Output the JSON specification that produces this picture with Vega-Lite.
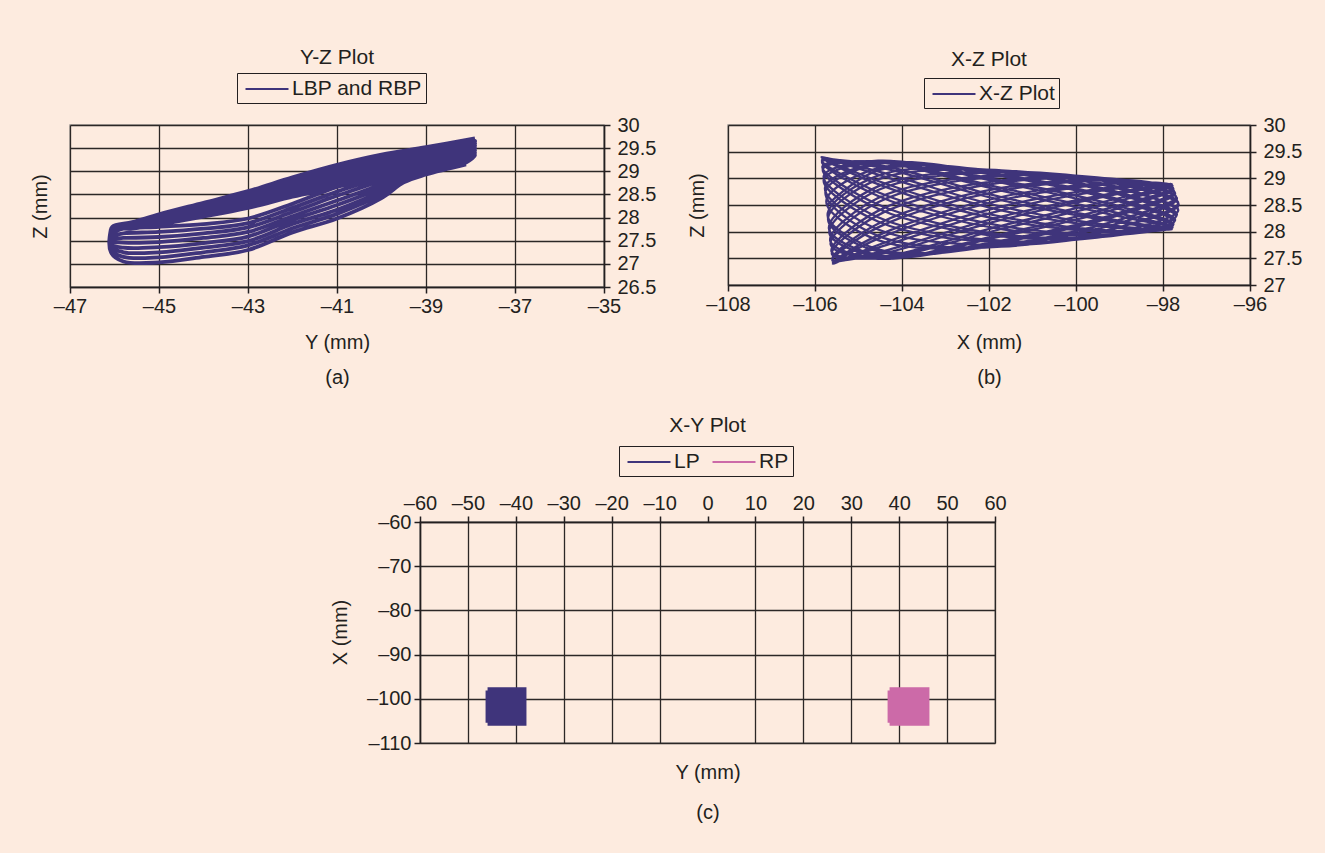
{
  "$schema": "https://vega.github.io/schema/vega-lite/v6.json",
  "background": "#fdebdf",
  "padding": {"left": 29, "top": 45, "right": 26, "bottom": 32},
  "bounds": "flush",
  "spacing": 397,
  "resolve": {"scale": {"color": "independent"}, "legend": {"color": "independent"}},
  "config": {
    "font": "Liberation Sans",
    "view": {"stroke": "#a39c98", "strokeWidth": 1.5},
    "axis": {
      "labelFont": "Liberation Sans", "labelFontSize": 20, "labelColor": "#231f20",
      "titleFont": "Liberation Sans", "titleFontSize": 20, "titleFontWeight": "normal", "titleColor": "#231f20",
      "domainColor": "#231f20", "domainWidth": 1.5, "tickColor": "#231f20", "tickWidth": 1.5, "tickSize": 6,
      "gridColor": "#2b2726", "gridOpacity": 1, "gridWidth": 1.3, "labelPadding": 3, "labelFlush": false, "labelOverlap": false
    },
    "legend": {
      "symbolType": "M-2,0H2", "symbolSize": 462, "symbolStrokeWidth": 2.2, "symbolOffset": 14,
      "labelFont": "Liberation Sans", "labelFontSize": 21, "labelColor": "#231f20",
      "strokeColor": "#231f20", "padding": 4, "labelOffset": 13, "columnPadding": 8
    },
    "title": {"font": "Liberation Sans", "fontSize": 21, "fontWeight": "normal", "color": "#231f20", "anchor": "middle", "frame": "group"}
  },
  "vconcat": [
    {
      "bounds": "flush",
      "spacing": 124,
      "resolve": {"scale": {"color": "independent"}, "legend": {"color": "independent"}},
      "hconcat": [
        {
          "width": 534, "height": 162,
          "title": {"text": "Y-Z Plot", "offset": 5},
          "data": {"values": [
            {"i":0,"y":-37.9,"z":29.71},{"i":1,"y":-39,"z":29.52},{"i":2,"y":-40,"z":29.36},{"i":3,"y":-41,"z":29.14},{"i":4,"y":-42,"z":28.87},{"i":5,"y":-43,"z":28.57},{"i":6,"y":-44,"z":28.32},{"i":7,"y":-45,"z":28.07},{"i":8,"y":-45.6,"z":27.90},{"i":9,"y":-46.05,"z":27.80},
            {"i":10,"y":-46.08,"z":27.68},{"i":11,"y":-45.8,"z":27.76},{"i":12,"y":-45,"z":27.80},{"i":13,"y":-44,"z":27.86},{"i":14,"y":-43,"z":27.98},{"i":15,"y":-42,"z":28.30},{"i":16,"y":-41,"z":28.66},{"i":17,"y":-40,"z":28.95},{"i":18,"y":-39.5,"z":29.08},{"i":19,"y":-39,"z":29.22},{"i":20,"y":-38.1,"z":29.42},
            {"i":21,"y":-37.9,"z":29.66},{"i":22,"y":-39,"z":29.46},{"i":23,"y":-40,"z":29.29},{"i":24,"y":-41,"z":29.07},{"i":25,"y":-42,"z":28.81},{"i":26,"y":-43,"z":28.52},{"i":27,"y":-44,"z":28.28},{"i":28,"y":-45,"z":28.04},{"i":29,"y":-45.6,"z":27.88},{"i":30,"y":-46.05,"z":27.79},
            {"i":31,"y":-46.08,"z":27.62},{"i":32,"y":-45.8,"z":27.66},{"i":33,"y":-45,"z":27.69},{"i":34,"y":-44,"z":27.76},{"i":35,"y":-43,"z":27.88},{"i":36,"y":-42,"z":28.21},{"i":37,"y":-41,"z":28.56},{"i":38,"y":-40,"z":28.87},{"i":39,"y":-39.5,"z":29.03},{"i":40,"y":-39,"z":29.18},{"i":41,"y":-38.1,"z":29.38},
            {"i":42,"y":-37.9,"z":29.61},{"i":43,"y":-39,"z":29.40},{"i":44,"y":-40,"z":29.23},{"i":45,"y":-41,"z":29.00},{"i":46,"y":-42,"z":28.75},{"i":47,"y":-43,"z":28.47},{"i":48,"y":-44,"z":28.23},{"i":49,"y":-45,"z":28.01},{"i":50,"y":-45.6,"z":27.86},{"i":51,"y":-46.05,"z":27.78},
            {"i":52,"y":-46.08,"z":27.56},{"i":53,"y":-45.8,"z":27.56},{"i":54,"y":-45,"z":27.58},{"i":55,"y":-44,"z":27.66},{"i":56,"y":-43,"z":27.79},{"i":57,"y":-42,"z":28.12},{"i":58,"y":-41,"z":28.47},{"i":59,"y":-40,"z":28.80},{"i":60,"y":-39.5,"z":28.99},{"i":61,"y":-39,"z":29.14},{"i":62,"y":-38.1,"z":29.34},
            {"i":63,"y":-37.9,"z":29.56},{"i":64,"y":-39,"z":29.34},{"i":65,"y":-40,"z":29.16},{"i":66,"y":-41,"z":28.93},{"i":67,"y":-42,"z":28.69},{"i":68,"y":-43,"z":28.42},{"i":69,"y":-44,"z":28.19},{"i":70,"y":-45,"z":27.98},{"i":71,"y":-45.6,"z":27.84},{"i":72,"y":-46.05,"z":27.77},
            {"i":73,"y":-46.08,"z":27.50},{"i":74,"y":-45.8,"z":27.46},{"i":75,"y":-45,"z":27.47},{"i":76,"y":-44,"z":27.56},{"i":77,"y":-43,"z":27.69},{"i":78,"y":-42,"z":28.03},{"i":79,"y":-41,"z":28.37},{"i":80,"y":-40,"z":28.72},{"i":81,"y":-39.5,"z":28.94},{"i":82,"y":-39,"z":29.10},{"i":83,"y":-38.1,"z":29.30},
            {"i":84,"y":-37.9,"z":29.50},{"i":85,"y":-39,"z":29.28},{"i":86,"y":-40,"z":29.10},{"i":87,"y":-41,"z":28.87},{"i":88,"y":-42,"z":28.63},{"i":89,"y":-43,"z":28.36},{"i":90,"y":-44,"z":28.15},{"i":91,"y":-45,"z":27.94},{"i":92,"y":-45.6,"z":27.82},{"i":93,"y":-46.05,"z":27.75},
            {"i":94,"y":-46.08,"z":27.43},{"i":95,"y":-45.8,"z":27.35},{"i":96,"y":-45,"z":27.36},{"i":97,"y":-44,"z":27.45},{"i":98,"y":-43,"z":27.59},{"i":99,"y":-42,"z":27.95},{"i":100,"y":-41,"z":28.27},{"i":101,"y":-40,"z":28.65},{"i":102,"y":-39.5,"z":28.90},{"i":103,"y":-39,"z":29.05},{"i":104,"y":-38.1,"z":29.27},
            {"i":105,"y":-37.9,"z":29.45},{"i":106,"y":-39,"z":29.22},{"i":107,"y":-40,"z":29.03},{"i":108,"y":-41,"z":28.80},{"i":109,"y":-42,"z":28.57},{"i":110,"y":-43,"z":28.31},{"i":111,"y":-44,"z":28.11},{"i":112,"y":-45,"z":27.91},{"i":113,"y":-45.6,"z":27.80},{"i":114,"y":-46.05,"z":27.74},
            {"i":115,"y":-46.08,"z":27.37},{"i":116,"y":-45.8,"z":27.25},{"i":117,"y":-45,"z":27.25},{"i":118,"y":-44,"z":27.35},{"i":119,"y":-43,"z":27.49},{"i":120,"y":-42,"z":27.86},{"i":121,"y":-41,"z":28.17},{"i":122,"y":-40,"z":28.57},{"i":123,"y":-39.5,"z":28.85},{"i":124,"y":-39,"z":29.01},{"i":125,"y":-38.1,"z":29.23},
            {"i":126,"y":-37.9,"z":29.40},{"i":127,"y":-39,"z":29.16},{"i":128,"y":-40,"z":28.97},{"i":129,"y":-41,"z":28.73},{"i":130,"y":-42,"z":28.51},{"i":131,"y":-43,"z":28.26},{"i":132,"y":-44,"z":28.06},{"i":133,"y":-45,"z":27.88},{"i":134,"y":-45.6,"z":27.78},{"i":135,"y":-46.05,"z":27.73},
            {"i":136,"y":-46.08,"z":27.31},{"i":137,"y":-45.8,"z":27.15},{"i":138,"y":-45,"z":27.14},{"i":139,"y":-44,"z":27.25},{"i":140,"y":-43,"z":27.40},{"i":141,"y":-42,"z":27.77},{"i":142,"y":-41,"z":28.08},{"i":143,"y":-40,"z":28.50},{"i":144,"y":-39.5,"z":28.81},{"i":145,"y":-39,"z":28.97},{"i":146,"y":-38.1,"z":29.19},
            {"i":147,"y":-37.9,"z":29.35},{"i":148,"y":-39,"z":29.10},{"i":149,"y":-40,"z":28.90},{"i":150,"y":-41,"z":28.66},{"i":151,"y":-42,"z":28.45},{"i":152,"y":-43,"z":28.21},{"i":153,"y":-44,"z":28.02},{"i":154,"y":-45,"z":27.85},{"i":155,"y":-45.6,"z":27.76},{"i":156,"y":-46.05,"z":27.72},
            {"i":157,"y":-46.08,"z":27.25},{"i":158,"y":-45.8,"z":27.05},{"i":159,"y":-45,"z":27.03},{"i":160,"y":-44,"z":27.15},{"i":161,"y":-43,"z":27.30},{"i":162,"y":-42,"z":27.68},{"i":163,"y":-41,"z":27.98},{"i":164,"y":-40,"z":28.42},{"i":165,"y":-39.5,"z":28.76},{"i":166,"y":-39,"z":28.93},{"i":167,"y":-38.1,"z":29.15}
          ]},
          "mark": {"type": "line", "strokeWidth": 3.8, "interpolate": "catmull-rom"},
          "encoding": {
            "x": {"field": "y", "type": "quantitative", "scale": {"domain": [-47, -35], "nice": false, "zero": false},
              "axis": {"values": [-47, -45, -43, -41, -39, -37, -35], "title": ["Y (mm)", "(a)"], "titleLineHeight": 35, "titleY": 45, "titleBaseline": "top", "labelExpr": "replace('' + datum.value, '-', '–')"}},
            "y": {"field": "z", "type": "quantitative", "scale": {"domain": [26.5, 30], "nice": false, "zero": false},
              "axis": {"orient": "right", "values": [26.5, 27, 27.5, 28, 28.5, 29, 29.5, 30], "labelPadding": 7, "title": "Z (mm)", "titleX": -564, "titleY": 81, "titleAngle": -90, "titleAlign": "center", "titleBaseline": "middle", "labelExpr": "'' + datum.value"}},
            "order": {"field": "i", "type": "quantitative"},
            "color": {"datum": "LBP and RBP", "type": "nominal", "scale": {"range": ["#3f347b"]},
              "legend": {"title": null, "orient": "none", "legendX": 167, "legendY": -52, "direction": "horizontal"}}
          }
        },
        {
          "width": 522, "height": 160,
          "title": {"text": "X-Z Plot", "offset": 8},
          "data": {"values": [
            {"i":0,"x":-105.73,"z":28.49},{"i":1,"x":-104.55,"z":29.15},{"i":2,"x":-101.72,"z":29.13},{"i":3,"x":-98.89,"z":28.71},
            {"i":4,"x":-97.68,"z":28.32},{"i":5,"x":-98.89,"z":27.98},{"i":6,"x":-101.72,"z":27.80},{"i":7,"x":-104.55,"z":28.19},
            {"i":8,"x":-105.80,"z":28.97},{"i":9,"x":-104.55,"z":29.32},{"i":10,"x":-101.72,"z":28.96},{"i":11,"x":-98.89,"z":28.45},
            {"i":12,"x":-97.76,"z":28.14},{"i":13,"x":-98.89,"z":27.95},{"i":14,"x":-101.72,"z":28.05},{"i":15,"x":-104.55,"z":28.67},
            {"i":16,"x":-105.84,"z":29.31},{"i":17,"x":-104.55,"z":29.25},{"i":18,"x":-101.72,"z":28.65},{"i":19,"x":-98.89,"z":28.19},
            {"i":20,"x":-97.80,"z":28.05},{"i":21,"x":-98.89,"z":28.06},{"i":22,"x":-101.72,"z":28.40},{"i":23,"x":-104.55,"z":29.07},
            {"i":24,"x":-105.85,"z":29.40},{"i":25,"x":-104.55,"z":28.95},{"i":26,"x":-101.72,"z":28.28},{"i":27,"x":-98.89,"z":28.01},
            {"i":28,"x":-97.79,"z":28.07},{"i":29,"x":-98.89,"z":28.27},{"i":30,"x":-101.72,"z":28.77},{"i":31,"x":-104.55,"z":29.30},
            {"i":32,"x":-105.83,"z":29.22},{"i":33,"x":-104.55,"z":28.51},{"i":34,"x":-101.72,"z":27.95},{"i":35,"x":-98.89,"z":27.95},
            {"i":36,"x":-97.74,"z":28.19},{"i":37,"x":-98.89,"z":28.54},{"i":38,"x":-101.72,"z":29.04},{"i":39,"x":-104.55,"z":29.29},
            {"i":40,"x":-105.77,"z":28.82},{"i":41,"x":-104.55,"z":28.04},{"i":42,"x":-101.72,"z":27.75},{"i":43,"x":-98.89,"z":28.02},
            {"i":44,"x":-97.65,"z":28.40},{"i":45,"x":-98.89,"z":28.78},{"i":46,"x":-101.72,"z":29.15},{"i":47,"x":-104.55,"z":29.05},
            {"i":48,"x":-105.71,"z":28.31},{"i":49,"x":-104.55,"z":27.67},{"i":50,"x":-101.72,"z":27.74},{"i":51,"x":-98.89,"z":28.19},
            {"i":52,"x":-97.68,"z":28.62},{"i":53,"x":-98.89,"z":28.94},{"i":54,"x":-101.72,"z":29.07},{"i":55,"x":-104.55,"z":28.63},
            {"i":56,"x":-105.65,"z":27.83},{"i":57,"x":-104.55,"z":27.50},{"i":58,"x":-101.72,"z":27.91},{"i":59,"x":-98.89,"z":28.47},
            {"i":60,"x":-97.76,"z":28.80},{"i":61,"x":-98.89,"z":28.97},{"i":62,"x":-101.72,"z":28.82},{"i":63,"x":-104.55,"z":28.15},
            {"i":64,"x":-105.60,"z":27.49},{"i":65,"x":-104.55,"z":27.57},{"i":66,"x":-101.72,"z":28.22},{"i":67,"x":-98.89,"z":28.73},
            {"i":68,"x":-97.80,"z":28.89},{"i":69,"x":-98.89,"z":28.86},{"i":70,"x":-101.72,"z":28.47},{"i":71,"x":-104.55,"z":27.75},
            {"i":72,"x":-105.59,"z":27.40},{"i":73,"x":-104.55,"z":27.87},{"i":74,"x":-101.72,"z":28.59},{"i":75,"x":-98.89,"z":28.91},
            {"i":76,"x":-97.79,"z":28.87},{"i":77,"x":-98.89,"z":28.65},{"i":78,"x":-101.72,"z":28.11},{"i":79,"x":-104.55,"z":27.52},
            {"i":80,"x":-105.61,"z":27.58},{"i":81,"x":-104.55,"z":28.31},{"i":82,"x":-101.72,"z":28.92},{"i":83,"x":-98.89,"z":28.97},
            {"i":84,"x":-97.74,"z":28.75},{"i":85,"x":-98.89,"z":28.38},{"i":86,"x":-101.72,"z":27.83},{"i":87,"x":-104.55,"z":27.53},
            {"i":88,"x":-105.67,"z":27.98},{"i":89,"x":-104.55,"z":28.78},{"i":90,"x":-101.72,"z":29.12},{"i":91,"x":-98.89,"z":28.90},
            {"i":92,"x":-97.65,"z":28.54},{"i":93,"x":-98.89,"z":28.11},{"i":94,"x":-101.72,"z":27.72},{"i":95,"x":-104.55,"z":27.92},
            {"i":96,"x":-105.76,"z":28.74},{"i":97,"x":-104.55,"z":29.27},{"i":98,"x":-101.72,"z":29.07},{"i":99,"x":-98.89,"z":28.58},
            {"i":100,"x":-97.72,"z":28.22},{"i":101,"x":-98.89,"z":27.95},{"i":102,"x":-101.72,"z":27.91},{"i":103,"x":-104.55,"z":28.43},
            {"i":104,"x":-105.82,"z":29.17},{"i":105,"x":-104.55,"z":29.32},{"i":106,"x":-101.72,"z":28.82},{"i":107,"x":-98.89,"z":28.32},
            {"i":108,"x":-97.78,"z":28.08},{"i":109,"x":-98.89,"z":27.99},{"i":110,"x":-101.72,"z":28.22},{"i":111,"x":-104.55,"z":28.89},
            {"i":112,"x":-105.85,"z":29.39},{"i":113,"x":-104.55,"z":29.13},{"i":114,"x":-101.72,"z":28.47},{"i":115,"x":-98.89,"z":28.09},
            {"i":116,"x":-97.80,"z":28.04},{"i":117,"x":-98.89,"z":28.16},{"i":118,"x":-101.72,"z":28.59},{"i":119,"x":-104.55,"z":29.21},
            {"i":120,"x":-105.84,"z":29.34},{"i":121,"x":-104.55,"z":28.74},{"i":122,"x":-101.72,"z":28.11},{"i":123,"x":-98.89,"z":27.96},
            {"i":124,"x":-97.77,"z":28.12},{"i":125,"x":-98.89,"z":28.40},{"i":126,"x":-101.72,"z":28.92},{"i":127,"x":-104.55,"z":29.33},
            {"i":128,"x":-105.80,"z":29.04},{"i":129,"x":-104.55,"z":28.27},{"i":130,"x":-101.72,"z":27.83},{"i":131,"x":-98.89,"z":27.97},
            {"i":132,"x":-97.70,"z":28.29},{"i":133,"x":-98.89,"z":28.67},{"i":134,"x":-101.72,"z":29.12},{"i":135,"x":-104.55,"z":29.19},
            {"i":136,"x":-105.74,"z":28.57},{"i":137,"x":-104.55,"z":27.84},{"i":138,"x":-101.72,"z":27.72},{"i":139,"x":-98.89,"z":28.11},
            {"i":140,"x":-97.64,"z":28.51},{"i":141,"x":-98.89,"z":28.87},{"i":142,"x":-101.72,"z":29.13},{"i":143,"x":-104.55,"z":28.85},
            {"i":144,"x":-105.68,"z":28.06},{"i":145,"x":-104.55,"z":27.56},{"i":146,"x":-101.72,"z":27.80},{"i":147,"x":-98.89,"z":28.34},
            {"i":148,"x":-97.72,"z":28.72},{"i":149,"x":-98.89,"z":28.97},{"i":150,"x":-101.72,"z":28.96},{"i":151,"x":-104.55,"z":28.39},
            {"i":152,"x":-105.62,"z":27.63},{"i":153,"x":-104.55,"z":27.50},{"i":154,"x":-101.72,"z":28.05},{"i":155,"x":-98.89,"z":28.60},
            {"i":156,"x":-97.78,"z":28.86},{"i":157,"x":-98.89,"z":28.93},{"i":158,"x":-101.72,"z":28.65},{"i":159,"x":-104.55,"z":27.93},
            {"i":160,"x":-105.59,"z":27.42},{"i":161,"x":-104.55,"z":27.70},{"i":162,"x":-101.72,"z":28.40},{"i":163,"x":-98.89,"z":28.83},
            {"i":164,"x":-97.80,"z":28.90},{"i":165,"x":-98.89,"z":28.76},{"i":166,"x":-101.72,"z":28.28},{"i":167,"x":-104.55,"z":27.61},
            {"i":168,"x":-105.60,"z":27.46},{"i":169,"x":-104.55,"z":28.08},{"i":170,"x":-101.72,"z":28.77},{"i":171,"x":-98.89,"z":28.96},
            {"i":172,"x":-97.77,"z":28.82},{"i":173,"x":-98.89,"z":28.52},{"i":174,"x":-101.72,"z":27.95},{"i":175,"x":-104.55,"z":27.49},
            {"i":176,"x":-105.64,"z":27.76},{"i":177,"x":-104.55,"z":28.55},{"i":178,"x":-101.72,"z":29.04},{"i":179,"x":-98.89,"z":28.95},
            {"i":180,"x":-97.70,"z":28.65},{"i":181,"x":-98.89,"z":28.25},{"i":182,"x":-101.72,"z":27.75},{"i":183,"x":-104.55,"z":27.63},
            {"i":184,"x":-105.70,"z":28.23},{"i":185,"x":-104.55,"z":28.98},{"i":186,"x":-101.72,"z":29.15},{"i":187,"x":-98.89,"z":28.81},
            {"i":188,"x":-97.64,"z":28.43}
          ]},
          "mark": {"type": "line", "strokeWidth": 2.3, "interpolate": "catmull-rom"},
          "encoding": {
            "x": {"field": "x", "type": "quantitative", "scale": {"domain": [-108, -96], "nice": false, "zero": false},
              "axis": {"values": [-108, -106, -104, -102, -100, -98, -96], "title": ["X (mm)", "(b)"], "titleLineHeight": 35, "titleY": 47, "titleBaseline": "top", "labelExpr": "replace('' + datum.value, '-', '–')"}},
            "y": {"field": "z", "type": "quantitative", "scale": {"domain": [27, 30], "nice": false, "zero": false},
              "axis": {"orient": "right", "values": [27, 27.5, 28, 28.5, 29, 29.5, 30], "labelPadding": 7, "title": "Z (mm)", "titleX": -553, "titleY": 80, "titleAngle": -90, "titleAlign": "center", "titleBaseline": "middle", "labelExpr": "'' + datum.value"}},
            "order": {"field": "i", "type": "quantitative"},
            "color": {"datum": "X-Z Plot", "type": "nominal", "scale": {"range": ["#3f347b"]},
              "legend": {"title": null, "orient": "none", "legendX": 196, "legendY": -47, "direction": "horizontal"}}
          }
        }
      ]
    },
    {
      "bounds": "flush",
      "spacing": 0,
      "resolve": {"scale": {"color": "independent"}, "legend": {"color": "independent"}},
      "hconcat": [
        {
          "width": 350, "height": 20,
          "view": {"stroke": null},
          "data": {"values": [{"t": ""}]},
          "mark": {"type": "text"},
          "encoding": {"text": {"field": "t"}}
        },
        {
          "width": 575, "height": 221,
          "title": {"text": "X-Y Plot", "offset": 10},
          "data": {"values": [
            {"i":0,"s":"LP","y":-45.9,"x":-97.85},{"i":1,"s":"LP","y":-38.2,"x":-97.85},{"i":2,"s":"LP","y":-38.2,"x":-98.56},{"i":3,"s":"LP","y":-45.9,"x":-98.56},
            {"i":4,"s":"LP","y":-45.9,"x":-99.27},{"i":5,"s":"LP","y":-38.2,"x":-99.27},{"i":6,"s":"LP","y":-38.2,"x":-99.98},{"i":7,"s":"LP","y":-45.9,"x":-99.98},
            {"i":8,"s":"LP","y":-45.9,"x":-100.69},{"i":9,"s":"LP","y":-38.2,"x":-100.69},{"i":10,"s":"LP","y":-38.2,"x":-101.40},{"i":11,"s":"LP","y":-45.9,"x":-101.40},
            {"i":12,"s":"LP","y":-45.9,"x":-102.10},{"i":13,"s":"LP","y":-38.2,"x":-102.10},{"i":14,"s":"LP","y":-38.2,"x":-102.81},{"i":15,"s":"LP","y":-45.9,"x":-102.81},
            {"i":16,"s":"LP","y":-45.9,"x":-103.52},{"i":17,"s":"LP","y":-38.2,"x":-103.52},{"i":18,"s":"LP","y":-38.2,"x":-104.23},{"i":19,"s":"LP","y":-45.9,"x":-104.23},
            {"i":20,"s":"LP","y":-45.9,"x":-104.94},{"i":21,"s":"LP","y":-38.2,"x":-104.94},{"i":22,"s":"LP","y":-38.2,"x":-105.65},{"i":23,"s":"LP","y":-45.9,"x":-105.65},
            {"i":0,"s":"RP","y":38.0,"x":-97.85},{"i":1,"s":"RP","y":45.9,"x":-97.85},{"i":2,"s":"RP","y":45.9,"x":-98.56},{"i":3,"s":"RP","y":38.0,"x":-98.56},
            {"i":4,"s":"RP","y":38.0,"x":-99.27},{"i":5,"s":"RP","y":45.9,"x":-99.27},{"i":6,"s":"RP","y":45.9,"x":-99.98},{"i":7,"s":"RP","y":38.0,"x":-99.98},
            {"i":8,"s":"RP","y":38.0,"x":-100.69},{"i":9,"s":"RP","y":45.9,"x":-100.69},{"i":10,"s":"RP","y":45.9,"x":-101.40},{"i":11,"s":"RP","y":38.0,"x":-101.40},
            {"i":12,"s":"RP","y":38.0,"x":-102.10},{"i":13,"s":"RP","y":45.9,"x":-102.10},{"i":14,"s":"RP","y":45.9,"x":-102.81},{"i":15,"s":"RP","y":38.0,"x":-102.81},
            {"i":16,"s":"RP","y":38.0,"x":-103.52},{"i":17,"s":"RP","y":45.9,"x":-103.52},{"i":18,"s":"RP","y":45.9,"x":-104.23},{"i":19,"s":"RP","y":38.0,"x":-104.23},
            {"i":20,"s":"RP","y":38.0,"x":-104.94},{"i":21,"s":"RP","y":45.9,"x":-104.94},{"i":22,"s":"RP","y":45.9,"x":-105.65},{"i":23,"s":"RP","y":38.0,"x":-105.65}
          ]},
          "mark": {"type": "line", "strokeWidth": 4},
          "encoding": {
            "x": {"field": "y", "type": "quantitative", "scale": {"domain": [-60, 60], "nice": false, "zero": false},
              "axis": {"orient": "top", "values": [-60, -50, -40, -30, -20, -10, 0, 10, 20, 30, 40, 50, 60], "title": ["Y (mm)", "(c)"], "titleLineHeight": 40, "titleY": 240, "titleBaseline": "top", "labelExpr": "replace('' + datum.value, '-', '–')",
                "gridColor": {"condition": {"test": "datum.value === 0", "value": "transparent"}, "value": "#2b2726"}}},
            "y": {"field": "x", "type": "quantitative", "scale": {"domain": [-110, -60], "nice": false, "zero": false},
              "axis": {"values": [-110, -100, -90, -80, -70, -60], "title": "X (mm)", "titleX": -80, "titleY": 110, "titleAngle": -90, "titleAlign": "center", "titleBaseline": "middle", "labelExpr": "replace('' + datum.value, '-', '–')"}},
            "order": {"field": "i", "type": "quantitative"},
            "color": {"field": "s", "type": "nominal", "scale": {"domain": ["LP", "RP"], "range": ["#3f347b", "#cc6aa8"]},
              "legend": {"title": null, "orient": "none", "legendX": 199, "legendY": -76, "direction": "horizontal"}}
          }
        }
      ]
    }
  ]
}
